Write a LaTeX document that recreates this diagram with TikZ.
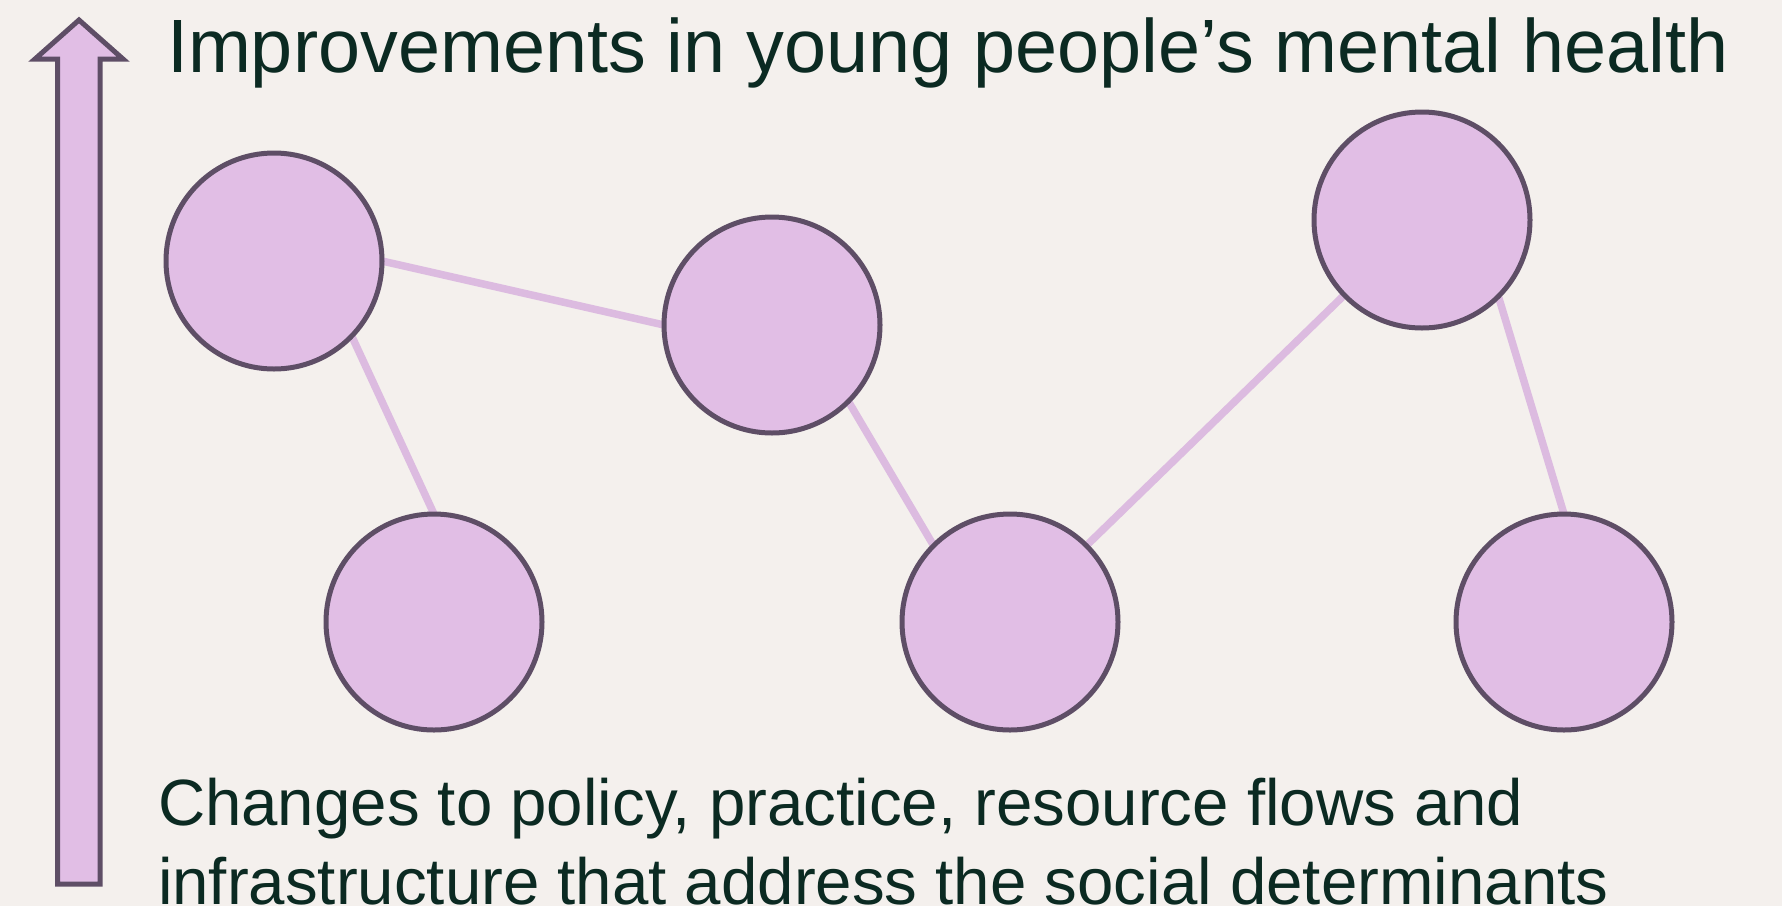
\documentclass[tikz,border=0pt]{standalone}
\usepackage{fontspec}
\setmainfont{Liberation Sans}
\definecolor{bg}{HTML}{F4F0ED}
\definecolor{pinkfill}{HTML}{E1BEE5}
\definecolor{plum}{HTML}{5E4E66}
\definecolor{linkc}{HTML}{DCBBE0}
\definecolor{txt}{HTML}{0B2A22}
\pgfdeclarelayer{bglayer}
\pgfdeclarelayer{links}
\pgfsetlayers{bglayer,links,main}
\begin{document}
\begin{tikzpicture}[x=1pt,y=-1pt,
  bubble/.style={circle,draw=plum,fill=pinkfill,line width=5pt,minimum size=216pt,inner sep=0pt,outer sep=0pt},
  link/.style={draw=linkc,line width=7.5pt},
  label/.style={text=txt,anchor=base west,inner sep=0pt,outer sep=0pt,align=left}]
\begin{pgfonlayer}{bglayer}
\fill[bg] (0,0) rectangle (1782,906);
\end{pgfonlayer}
\useasboundingbox (0,0) rectangle (1782,906);
% upward arrow
\draw[plum,fill=pinkfill,line width=5pt,line join=miter]
  (79,20) -- (123,59) -- (100,59) -- (100,884) -- (57.5,884) -- (57.5,59) -- (35,59) -- cycle;
% circles
\node[bubble] (c1) at (274,261) {};
\node[bubble] (c2) at (434,622) {};
\node[bubble] (c3) at (772,325) {};
\node[bubble] (c4) at (1010,622) {};
\node[bubble] (c5) at (1422,220) {};
\node[bubble] (c6) at (1564,622) {};
% links
\begin{pgfonlayer}{links}
\path[link] (c1.-44) -- (c2.90);
\path[link] (c1.0) -- (c3.180);
\path[link] (c3.-45) -- (c4.135);
\path[link] (c4.45) -- (c5.224);
\path[link] (c5.-45) -- (c6.90);
\end{pgfonlayer}
% texts
\node[label,font=\fontsize{75.6}{80}\selectfont] (title) at (167,72) {Improvements in young people’s mental health};
\node[label,font=\fontsize{65.4}{79}\selectfont] (bottom1) at (158,825) {Changes to policy, practice, resource flows and};
\node[label,font=\fontsize{65.4}{79}\selectfont] (bottom2) at (158,904) {infrastructure that address the social determinants};
\end{tikzpicture}
\end{document}
